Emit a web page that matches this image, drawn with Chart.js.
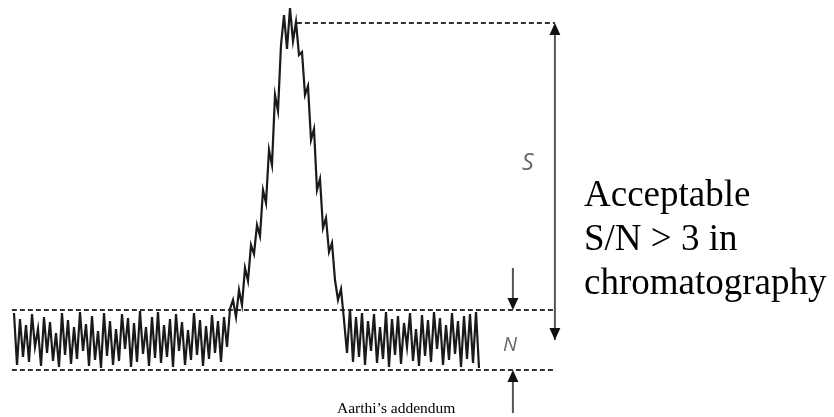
<!DOCTYPE html><html lang="en"><head><meta charset="utf-8"><meta name="viewport" content="width=device-width">
<title>S/N in chromatography</title>
<script src="https://cdn.jsdelivr.net/npm/chart.js@4.4.1/dist/chart.umd.min.js"></script>
<style>
body {
  margin: 0;
  background: #fff;
}
#wrap {
  position: relative;
  width: 834px;
  height: 417px;
  overflow: hidden;
}
#chart {
  position: absolute;
  left: 0;
  top: 0;
}
.lbl {
  position: absolute;
  white-space: nowrap;
}
.it {
  font-family: "Open Sans", sans-serif;
  font-style: italic;
  color: #666;
}
.serif {
  font-family: "Liberation Serif", "Times New Roman", serif;
  color: #000;
}
</style>
</head><body>

<div id=wrap>
  <canvas id=chart width=834 height=417></canvas>
  <div class="lbl it" style="left:522px;top:150px;font-size:23px;line-height:23px">S</div>
  <div class="lbl it" style="left:503px;top:334px;font-size:20px;line-height:20px">N</div>
  <div class="lbl serif" style="left:584px;top:172px;font-size:37px;line-height:44px">Acceptable<br>S/N &gt; 3 in<br>chromatography</div>
  <div class="lbl serif" style="left:337px;top:400px;font-size:15.5px;line-height:16px">Aarthi’s addendum</div>
</div>

<script>
// scan number (detector sample)
const scans = [
  0, 1, 2, 3, 4, 5, 6, 7, 8, 9, 10, 11, 12, 13, 14, 15, 16, 17, 18, 19,
  20, 21, 22, 23, 24, 25, 26, 27, 28, 29, 30, 31, 32, 33, 34, 35, 36, 37, 38, 39,
  40, 41, 42, 43, 44, 45, 46, 47, 48, 49, 50, 51, 52, 53, 54, 55, 56, 57, 58, 59,
  60, 61, 62, 63, 64, 65, 66, 67, 68, 69, 70, 71, 72, 73, 74, 75, 76, 77, 78, 79,
  80, 81, 82, 83, 84, 85, 86, 87, 88, 89, 90, 91, 92, 93, 94, 95, 96, 97, 98, 99,
  100, 101, 102, 103, 104, 105, 106, 107, 108, 109, 110, 111, 112, 113, 114, 115, 116, 117, 118, 119,
  120, 121, 122, 123, 124, 125, 126, 127, 128, 129, 130, 131, 132, 133, 134, 135, 136, 137, 138, 139,
  140, 141, 142, 143, 144, 145, 146, 147, 148, 149, 150, 151, 152, 153, 154, 155,
];

// detector response
const signal = [
  // baseline noise before the peak
  104, 52, 98, 60, 92, 55, 103, 70, 88, 51,
  100, 64, 95, 56, 84, 50, 104, 62, 97, 53,
  90, 58, 105, 66, 93, 51, 101, 57, 86, 49,
  104, 61, 96, 52, 88, 56, 103, 68, 99, 50,
  94, 55, 106, 63, 90, 51, 100, 59, 105, 54,
  92, 60, 98, 50, 103, 66, 95, 52, 87, 57,
  104, 62, 97, 51, 91, 58, 102, 64, 96, 55,
  100, 70, 108,
  // the peak
  117, 100, 127, 112, 149, 136, 172, 163, 192, 181,
  227, 214, 267, 252, 322, 306, 372, 402, 368, 409,
  376, 395, 362, 365, 322, 331, 277, 288, 227, 238,
  189, 199, 165, 174, 137, 117, 128, 97,
  // baseline noise after the peak
  64, 108, 55, 100, 60, 104, 52, 96, 66, 103,
  54, 90, 58, 105, 50, 98, 62, 101, 53, 94,
  70, 104, 56, 88, 51, 102, 61, 97, 55, 105,
  68, 99, 52, 92, 57, 104, 63, 96, 50, 101,
  58, 103, 54, 105, 49,
];

// dashed reference levels
const peakLevel = 394;
const noiseTop = 107;
const noiseBottom = 47;
const dashStart = -0.7;
const peakDashStart = 94.3;
const dashEnd = 180.3;

// arrows: S spans peak top to below the noise, N arrows point at the noise band
const sArrowX = 180.3;
const sArrowEnd = 77;
const nArrowX = 166.3;
const nArrowFromTop = 149;
const nArrowFromBottom = 4;

const dashed = (x0, x1, y) => ({
  data: [{ x: x0, y }, { x: x1, y }],
  borderColor: "#333",
  borderWidth: 2,
  borderDash: [5, 3],
  pointRadius: 0,
});

const arrows = [
  { x: sArrowX, from: sArrowEnd, to: peakLevel, both: true },
  { x: nArrowX, from: nArrowFromTop, to: noiseTop },
  { x: nArrowX, from: nArrowFromBottom, to: noiseBottom },
];

const head = (ctx, x, y, dir) => {
  ctx.beginPath();
  ctx.moveTo(x, y);
  ctx.lineTo(x - 5.5, y + dir * 12);
  ctx.lineTo(x + 5.5, y + dir * 12);
  ctx.closePath();
  ctx.fill();
};

const arrowPlugin = {
  id: "arrows",
  afterDatasetsDraw(chart) {
    const ctx = chart.ctx;
    const sx = chart.scales.x, sy = chart.scales.y;
    ctx.save();
    for (const a of arrows) {
      const x = sx.getPixelForValue(a.x);
      const y0 = sy.getPixelForValue(a.from);
      const y1 = sy.getPixelForValue(a.to);
      const dir = y1 > y0 ? -1 : 1; // head points toward y1
      ctx.strokeStyle = "#555";
      ctx.lineWidth = 2;
      ctx.beginPath();
      ctx.moveTo(x, y0);
      ctx.lineTo(x, y1 + dir * 6);
      ctx.stroke();
      ctx.fillStyle = "#111";
      head(ctx, x, y1, dir);
      if (a.both) head(ctx, x, y0, -dir);
    }
    ctx.restore();
  },
};

new Chart(document.getElementById("chart"), {
  type: "line",
  data: {
    datasets: [
      {
        data: scans.map((s, i) => ({ x: s, y: signal[i] })),
        borderColor: "#1a1a1a",
        borderWidth: 2.2,
        pointRadius: 0,
        tension: 0,
      },
      dashed(peakDashStart, dashEnd, peakLevel),
      dashed(dashStart, dashEnd, noiseTop),
      dashed(dashStart, dashEnd, noiseBottom),
    ],
  },
  options: {
    responsive: false,
    animation: false,
    layout: { padding: 0 },
    plugins: {
      legend: { display: false },
      tooltip: { enabled: false },
    },
    scales: {
      x: { type: "linear", display: false, min: -14 / 3, max: 820 / 3 },
      y: { display: false, min: 0, max: 417 },
    },
  },
  plugins: [arrowPlugin],
});
</script>

</body>
</html>
